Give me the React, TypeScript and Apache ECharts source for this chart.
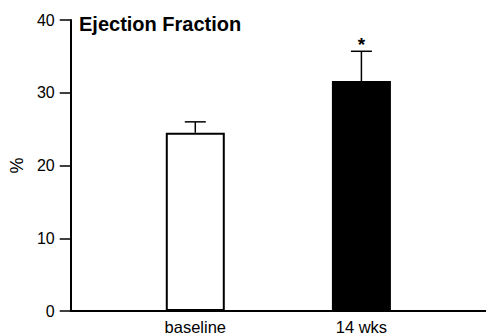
import React, { useEffect, useRef } from "react";
import * as echarts from "echarts";

const categories = ["", "baseline", "", "14 wks", ""];
const means = [null, 24.5, null, 31.6, null];
const upperErrors = [null, 26.0, null, 35.7, null];
const significance = ["", "", "", "*", ""];
const barFills = ["#fff", "#fff", "#fff", "#000", "#fff"];
const yTicks = { min: 0, max: 40, interval: 10 };

const FONT = "'Liberation Sans', Arial, Helvetica, sans-serif";

export default function App() {
  const ref = useRef<HTMLDivElement>(null);
  useEffect(() => {
    if (!ref.current) return;
    const chart = echarts.init(ref.current, undefined, { renderer: "svg" });
    const errData = upperErrors
      .map((u, i) => (u == null ? null : [i, u, means[i] as number, significance[i]]))
      .filter((d) => d != null);
    chart.setOption({
      animation: false,
      textStyle: { fontFamily: FONT },
      title: {
        text: "Ejection Fraction",
        left: 74,
        top: 9,
        textStyle: { fontFamily: FONT, fontWeight: "bold", fontSize: 20, color: "#000" },
      },
      grid: { left: 69, right: -5, top: 20, bottom: 21, containLabel: false },
      xAxis: {
        type: "category",
        data: categories,
        axisTick: { show: false },
        axisLine: { lineStyle: { color: "#000", width: 2 } },
        axisLabel: { color: "#000", fontSize: 16.5, margin: 7, fontFamily: FONT, interval: 0 },
        splitLine: { show: false },
      },
      yAxis: {
        type: "value",
        min: yTicks.min,
        max: yTicks.max,
        interval: yTicks.interval,
        name: "%",
        nameLocation: "middle",
        nameGap: 44,
        nameRotate: 90,
        nameTextStyle: { color: "#000", fontSize: 18, fontFamily: FONT },
        axisLine: { show: true, lineStyle: { color: "#000", width: 2 } },
        axisTick: { show: true, length: 11, lineStyle: { color: "#000", width: 1.5 } },
        axisLabel: { color: "#000", fontSize: 16, margin: 16, fontFamily: FONT },
        splitLine: { show: false },
      },
      series: [
        {
          type: "bar",
          data: means.map((v, i) => ({
            value: v,
            itemStyle: { color: barFills[i], borderColor: "#000", borderWidth: 2 },
          })),
          barWidth: 59,
          silent: true,
        },
        {
          type: "custom",
          data: errData,
          z: 5,
          renderItem: (params: any, api: any) => {
            const idx = api.value(0);
            const top = api.coord([idx, api.value(1)]);
            const base = api.coord([idx, api.value(2)]);
            const half = 10.5;
            const mark = significance[idx];
            const children: any[] = [
              {
                type: "line",
                shape: { x1: top[0], y1: top[1], x2: top[0], y2: base[1] },
                style: { stroke: "#000", lineWidth: 1.5 },
              },
              {
                type: "line",
                shape: { x1: top[0] - half, y1: top[1], x2: top[0] + half, y2: top[1] },
                style: { stroke: "#000", lineWidth: 1.5 },
              },
            ];
            if (mark) {
              children.push({
                type: "text",
                x: top[0],
                y: top[1] + 3,
                style: {
                  text: mark,
                  fill: "#000",
                  fontSize: 19,
                  fontWeight: "bold",
                  fontFamily: FONT,
                  align: "center",
                  verticalAlign: "bottom",
                },
              });
            }
            return { type: "group", children };
          },
        },
      ],
    });
    return () => chart.dispose();
  }, []);
  return (
    <div
      ref={ref}
      style={{ position: "absolute", left: 0, top: 0, width: 486, height: 335, background: "#fff" }}
    />
  );
}
